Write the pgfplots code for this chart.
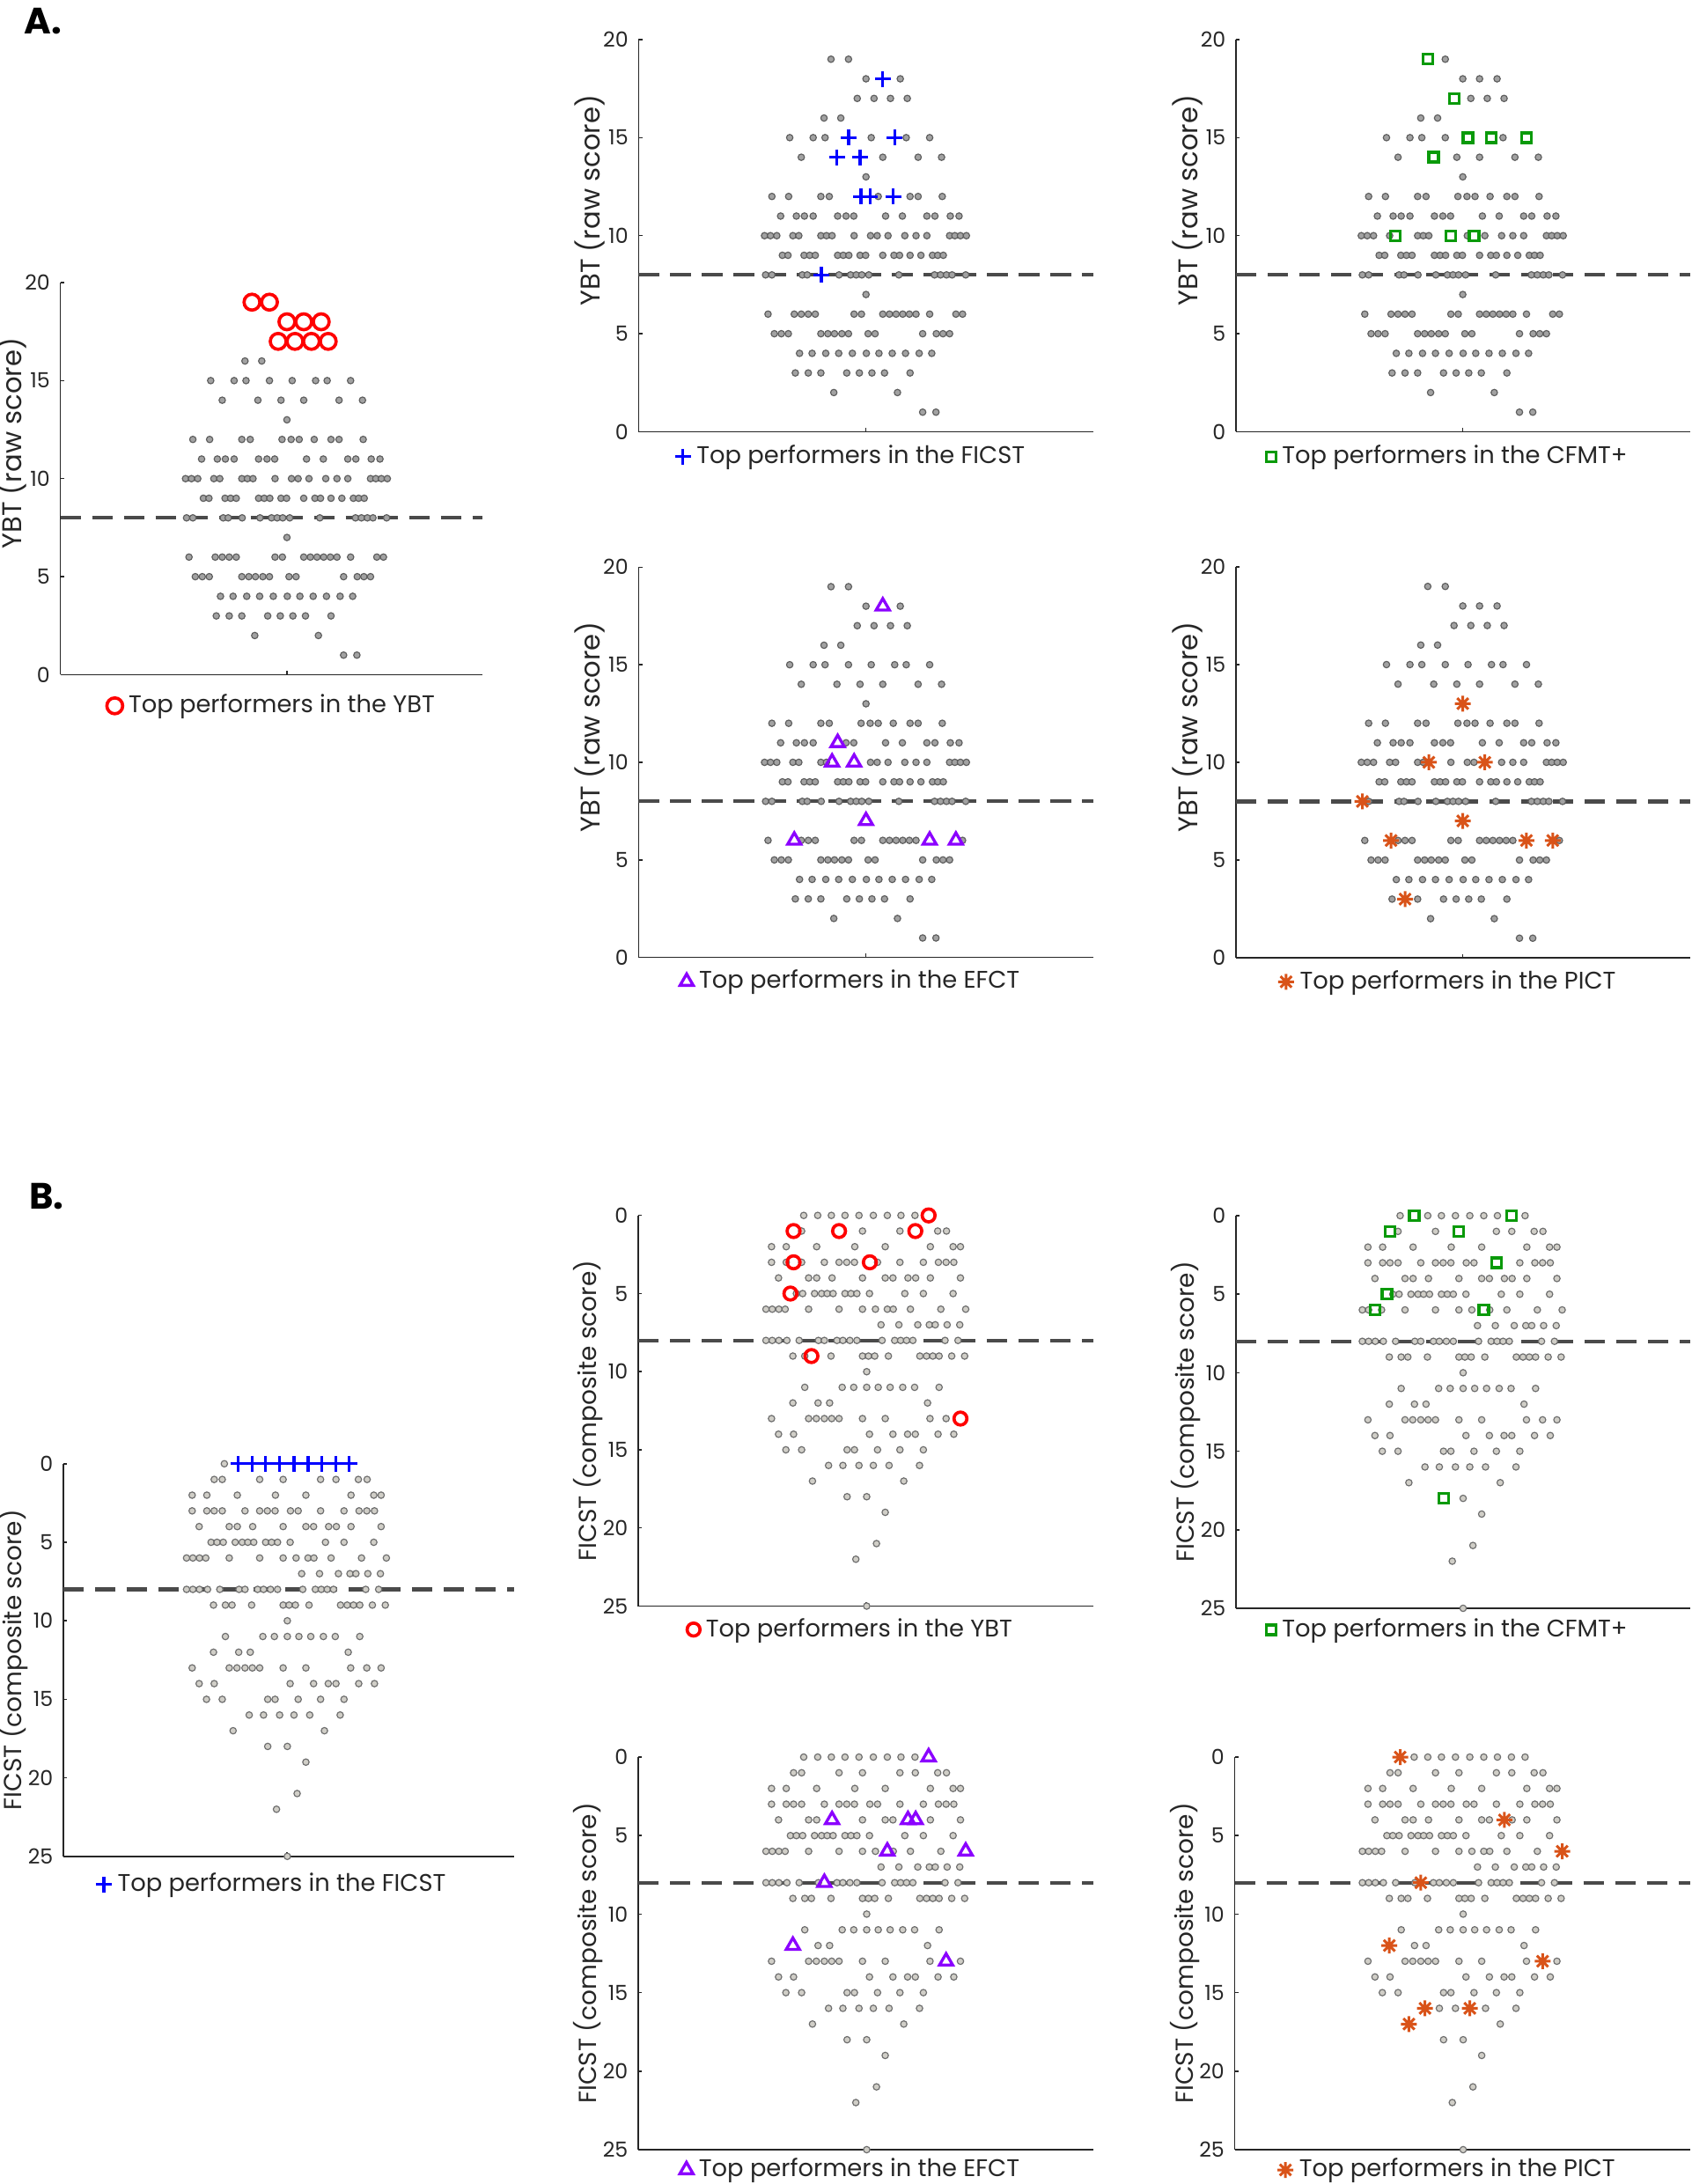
\documentclass[border=0pt]{standalone}
\usepackage{fontspec}
\setmainfont{Poppins}
\usepackage{pgfplots}
\usepackage{pgfplotstable}
\pgfplotsset{compat=1.18}

\definecolor{axcol}{HTML}{262626}
\definecolor{grayAfill}{HTML}{A2A2A2}
\definecolor{grayAedge}{HTML}{5E5E5E}
\definecolor{grayBfill}{HTML}{D0CEC7}
\definecolor{grayBedge}{HTML}{6E6E6E}
\definecolor{dashcol}{HTML}{4A4A4A}
\definecolor{mred}{HTML}{FF0000}
\definecolor{mblue}{HTML}{0000FF}
\definecolor{mgreen}{HTML}{0A9A0A}
\definecolor{mpurple}{HTML}{8B00FF}
\definecolor{morange}{HTML}{D95319}

\newcommand{\tfont}{\fontsize{7.1}{8}\selectfont}
\newcommand{\lfont}{\fontsize{8.2}{9.5}\selectfont}
\newcommand{\yAfont}{\fontsize{9.2}{10.5}\selectfont}
\newcommand{\yBfont}{\fontsize{8.4}{9.5}\selectfont}

\pgfdeclareplotmark{ast8}{%
  \pgfpathmoveto{\pgfqpoint{-\pgfplotmarksize}{0pt}}\pgfpathlineto{\pgfqpoint{\pgfplotmarksize}{0pt}}%
  \pgfpathmoveto{\pgfqpoint{0pt}{-\pgfplotmarksize}}\pgfpathlineto{\pgfqpoint{0pt}{\pgfplotmarksize}}%
  \pgfpathmoveto{\pgfqpoint{-0.7071\pgfplotmarksize}{-0.7071\pgfplotmarksize}}\pgfpathlineto{\pgfqpoint{0.7071\pgfplotmarksize}{0.7071\pgfplotmarksize}}%
  \pgfpathmoveto{\pgfqpoint{-0.7071\pgfplotmarksize}{0.7071\pgfplotmarksize}}\pgfpathlineto{\pgfqpoint{0.7071\pgfplotmarksize}{-0.7071\pgfplotmarksize}}%
  \pgfusepathqstroke}

% YBT raw scores (beeswarm offsets x, score y; flags: f=FICST, c=CFMT+, e=EFCT, p=PICT top)
\pgfplotstableread{
x y f c e p
-100 19 0 1 0 0
-50 19 0 0 0 0
0 18 0 0 0 0
48 18 1 0 1 0
98 18 0 0 0 0
-25 17 0 1 0 0
23 17 0 0 0 0
70 17 0 0 0 0
118 17 0 0 0 0
-120 16 0 0 0 0
-72 16 0 0 0 0
-218 15 0 0 0 0
-151 15 0 0 0 0
-117 15 0 0 0 0
-50 15 1 0 0 0
15 15 0 1 0 0
82 15 1 1 0 0
115 15 0 0 0 0
182 15 0 1 0 0
-185 14 0 0 0 0
-83 14 1 1 0 0
-17 14 1 0 0 0
48 14 0 0 0 0
149 14 0 0 0 0
216 14 0 0 0 0
0 13 0 0 0 1
-269 12 0 0 0 0
-221 12 0 0 0 0
-129 12 0 0 0 0
-105 12 0 0 0 0
-14 12 1 0 0 0
12 12 1 0 0 0
35 12 0 0 0 0
78 12 1 0 0 0
126 12 0 0 0 0
149 12 0 0 0 0
218 12 0 0 0 0
-244 11 0 0 0 0
-199 11 0 0 0 0
-176 11 0 0 0 0
-151 11 0 0 0 0
-81 11 0 0 1 0
-57 11 0 0 0 0
-35 11 0 0 0 0
56 11 0 0 0 0
104 11 0 0 0 0
174 11 0 0 0 0
197 11 0 0 0 0
241 11 0 0 0 0
266 11 0 0 0 0
-290 10 0 0 0 0
-273 10 0 0 0 0
-255 10 0 0 0 0
-209 10 0 0 0 0
-192 10 0 1 0 0
-129 10 0 0 0 0
-113 10 0 0 0 0
-97 10 0 0 1 1
-34 10 0 1 1 0
13 10 0 0 0 0
32 10 0 1 0 0
63 10 0 0 0 1
111 10 0 0 0 0
143 10 0 0 0 0
174 10 0 0 0 0
239 10 0 0 0 0
254 10 0 0 0 0
270 10 0 0 0 0
287 10 0 0 0 0
-239 9 0 0 0 0
-223 9 0 0 0 0
-177 9 0 0 0 0
-161 9 0 0 0 0
-145 9 0 0 0 0
-81 9 0 0 0 0
-65 9 0 0 0 0
-49 9 0 0 0 0
-17 9 0 0 0 0
-1 9 0 0 0 0
48 9 0 0 0 0
80 9 0 0 0 0
96 9 0 0 0 0
126 9 0 0 0 0
157 9 0 0 0 0
190 9 0 0 0 0
205 9 0 0 0 0
221 9 0 0 0 0
-287 8 0 0 0 1
-269 8 0 0 0 0
-182 8 0 0 0 0
-168 8 0 0 0 0
-128 8 1 0 0 0
-77 8 0 0 0 0
-44 8 0 0 0 0
-28 8 0 0 0 0
-12 8 0 0 0 0
8 8 0 0 0 0
94 8 0 0 0 0
196 8 0 0 0 0
213 8 0 0 0 0
230 8 0 0 0 0
246 8 0 0 0 0
285 8 0 0 0 0
0 7 0 0 1 1
-280 6 0 0 0 0
-205 6 0 0 1 1
-185 6 0 0 0 0
-165 6 0 0 0 0
-145 6 0 0 0 0
-34 6 0 0 0 0
-13 6 0 0 0 0
48 6 0 0 0 0
67 6 0 0 0 0
86 6 0 0 0 0
105 6 0 0 0 0
124 6 0 0 0 0
143 6 0 0 0 0
182 6 0 0 1 1
257 6 0 0 1 1
276 6 0 0 0 0
-262 5 0 0 0 0
-242 5 0 0 0 0
-222 5 0 0 0 0
-129 5 0 0 0 0
-109 5 0 0 0 0
-90 5 0 0 0 0
-69 5 0 0 0 0
-50 5 0 0 0 0
6 5 0 0 0 0
26 5 0 0 0 0
162 5 0 0 0 0
201 5 0 0 0 0
220 5 0 0 0 0
239 5 0 0 0 0
-190 4 0 0 0 0
-154 4 0 0 0 0
-115 4 0 0 0 0
-78 4 0 0 0 0
-39 4 0 0 0 0
1 4 0 0 0 0
37 4 0 0 0 0
75 4 0 0 0 0
113 4 0 0 0 0
152 4 0 0 0 0
188 4 0 0 0 0
-202 3 0 0 0 0
-165 3 0 0 0 1
-129 3 0 0 0 0
-55 3 0 0 0 0
-19 3 0 0 0 0
17 3 0 0 0 0
53 3 0 0 0 0
126 3 0 0 0 0
-92 2 0 0 0 0
90 2 0 0 0 0
162 1 0 0 0 0
200 1 0 0 0 0
}\tabA

% FICST composite scores (flags: t=FICST, r=YBT, c=CFMT+, e=EFCT, p=PICT top)
\pgfplotstableread{
x y t r c e p
-179 0 0 0 0 0 1
-139 0 1 0 1 0 0
-100 0 1 0 0 0 0
-61 0 1 0 0 0 0
-21 0 1 0 0 0 0
20 0 1 0 0 0 0
60 0 1 0 0 0 0
99 0 1 0 0 0 0
139 0 1 0 1 0 0
178 0 1 1 0 1 0
-208 1 0 1 1 0 0
-185 1 0 0 0 0 0
-78 1 0 1 0 0 0
-11 1 0 0 1 0 0
96 1 0 0 0 0 0
140 1 0 1 0 0 0
204 1 0 0 0 0 0
229 1 0 0 0 0 0
-271 2 0 0 0 0 0
-229 2 0 0 0 0 0
-142 2 0 0 0 0 0
-33 2 0 0 0 0 0
54 2 0 0 0 0 0
183 2 0 0 0 0 0
248 2 0 0 0 0 0
269 2 0 0 0 0 0
-271 3 0 0 0 0 0
-229 3 0 0 0 0 0
-208 3 0 1 0 0 0
-185 3 0 0 0 0 0
-120 3 0 0 0 0 0
-78 3 0 0 0 0 0
-56 3 0 0 0 0 0
-34 3 0 0 0 0 0
10 3 0 1 0 0 0
32 3 0 0 0 0 0
96 3 0 0 1 0 0
163 3 0 0 0 0 0
206 3 0 0 0 0 0
228 3 0 0 0 0 0
250 3 0 0 0 0 0
-251 4 0 0 0 0 0
-165 4 0 0 0 0 0
-142 4 0 0 0 0 0
-98 4 0 0 0 1 0
-11 4 0 0 0 0 0
54 4 0 0 0 0 0
76 4 0 0 0 0 0
119 4 0 0 0 1 1
141 4 0 0 0 1 0
183 4 0 0 0 0 0
269 4 0 0 0 0 0
-217 5 0 1 1 0 0
-200 5 0 0 0 0 0
-182 5 0 0 0 0 0
-148 5 0 0 0 0 0
-128 5 0 0 0 0 0
-112 5 0 0 0 0 0
-95 5 0 0 0 0 0
-61 5 0 0 0 0 0
-44 5 0 0 0 0 0
-27 5 0 0 0 0 0
9 5 0 0 0 0 0
110 5 0 0 0 0 0
163 5 0 0 0 0 0
248 5 0 0 0 0 0
-287 6 0 0 0 0 0
-269 6 0 0 0 0 0
-250 6 0 0 1 0 0
-232 6 0 0 0 0 0
-165 6 0 0 0 0 0
-78 6 0 0 0 0 0
-11 6 0 0 0 0 0
26 6 0 0 0 0 0
60 6 0 0 1 1 0
77 6 0 0 0 0 0
126 6 0 0 0 0 0
213 6 0 0 0 0 0
284 6 0 0 0 1 1
42 7 0 0 0 0 0
93 7 0 0 0 0 0
147 7 0 0 0 0 0
180 7 0 0 0 0 0
197 7 0 0 0 0 0
231 7 0 0 0 0 0
267 7 0 0 0 0 0
-287 8 0 0 0 0 0
-269 8 0 0 0 0 0
-250 8 0 0 0 0 0
-227 8 0 0 0 0 0
-192 8 0 0 0 0 0
-137 8 0 0 0 0 0
-120 8 0 0 0 1 1
-84 8 0 0 0 0 0
-67 8 0 0 0 0 0
-47 8 0 0 0 0 0
-27 8 0 0 0 0 0
45 8 0 0 0 0 0
81 8 0 0 0 0 0
98 8 0 0 0 0 0
115 8 0 0 0 0 0
133 8 0 0 0 0 0
225 8 0 0 0 0 0
262 8 0 0 0 0 0
-210 9 0 0 0 0 0
-176 9 0 0 0 0 0
-157 9 0 1 0 0 0
-101 9 0 0 0 0 0
-11 9 0 0 0 0 0
6 9 0 0 0 0 0
24 9 0 0 0 0 0
63 9 0 0 0 0 0
153 9 0 0 0 0 0
172 9 0 0 0 0 0
190 9 0 0 0 0 0
208 9 0 0 0 0 0
244 9 0 0 0 0 0
281 9 0 0 0 0 0
1 10 0 0 0 0 0
-176 11 0 0 0 0 0
-69 11 0 0 0 0 0
-36 11 0 0 0 0 0
1 11 0 0 0 0 0
34 11 0 0 0 0 0
68 11 0 0 0 0 0
104 11 0 0 0 0 0
138 11 0 0 0 0 0
208 11 0 0 0 0 0
-210 12 0 0 0 1 1
-138 12 0 0 0 0 0
-105 12 0 0 0 0 0
175 12 0 0 0 0 0
-271 13 0 0 0 0 0
-165 13 0 0 0 0 0
-143 13 0 0 0 0 0
-120 13 0 0 0 0 0
-99 13 0 0 0 0 0
-78 13 0 0 0 0 0
-11 13 0 0 0 0 0
54 13 0 0 0 0 0
182 13 0 0 0 0 0
228 13 0 0 0 1 1
269 13 0 1 0 0 0
-251 14 0 0 0 0 0
-208 14 0 0 0 0 0
9 14 0 0 0 0 0
76 14 0 0 0 0 0
118 14 0 0 0 0 0
140 14 0 0 0 0 0
205 14 0 0 0 0 0
250 14 0 0 0 0 0
-230 15 0 0 0 0 0
-185 15 0 0 0 0 0
-55 15 0 0 0 0 0
-34 15 0 0 0 0 0
32 15 0 0 0 0 0
96 15 0 0 0 0 0
163 15 0 0 0 0 0
-108 16 0 0 0 0 1
-67 16 0 0 0 0 0
-21 16 0 0 0 0 0
20 16 0 0 0 0 1
65 16 0 0 0 0 0
152 16 0 0 0 0 0
-154 17 0 0 0 0 1
107 17 0 0 0 0 0
-55 18 0 0 1 0 0
1 18 0 0 0 0 0
54 19 0 0 0 0 0
29 21 0 0 0 0 0
-30 22 0 0 0 0 0
1 25 0 0 0 0 0
}\tabB

\pgfplotsset{
  bee/.style={
    scale only axis, anchor=south west, enlargelimits=false,
    axis x line*=bottom, axis y line*=left,
    x axis line style={-}, y axis line style={-},
    axis line style={draw=axcol, line width=0.45pt},
    xtick={0}, xticklabels={},
    tick align=inside, major tick length=1.3pt,
    tick style={draw=axcol, line width=0.45pt},
    tick label style={font=\tfont, text=axcol},
    /pgf/number format/assume math mode=true,
    label style={font=\lfont, text=axcol},
    legend style={draw=none, fill=none, font=\lfont, text=axcol, anchor=center, xshift=-4.5pt},
    legend image code/.code={\draw[##1,/tikz/only marks] plot coordinates {(0pt,0pt)};},
  },
  beeA/.style={bee, ymin=0, ymax=20, ytick={0,5,10,15,20},
    ylabel={YBT (raw score)},
    every axis y label/.style={at={(axis description cs:0,0.5)}, xshift=-16.5pt, yshift=12pt, rotate=90, anchor=center, font=\yAfont, text=axcol}},
  beeB/.style={bee, ymin=0, ymax=25, y dir=reverse, ytick={0,5,10,15,20,25},
    ylabel={FICST (composite score)},
    every axis y label/.style={at={(axis description cs:0,0.5)}, xshift=-17pt, rotate=90, anchor=center, font=\yBfont, text=axcol}},
  grayA/.style={only marks, mark=*, mark size=1.1pt, mark options={fill=grayAfill, draw=grayAedge, line width=0.35pt}, forget plot},
  grayB/.style={only marks, mark=*, mark size=1.1pt, mark options={fill=grayBfill, draw=grayBedge, line width=0.35pt}, forget plot},
  dashl/.style={forget plot, no marks, draw=dashcol, line width=1.3pt, dash pattern=on 7pt off 3.8pt},
  hcirc/.style={only marks, mark=o, mark size=#1, draw=mred, line width=1.1pt},
  hplus/.style={only marks, mark=+, mark size=2.7pt, draw=mblue, line width=1pt},
  hsq/.style={only marks, mark=square, mark size=1.65pt, draw=mgreen, line width=1pt},
  htri/.style={only marks, mark=triangle, mark size=2.6pt, draw=mpurple, line width=1pt},
  hast/.style={only marks, mark=ast8, mark size=2.7pt, draw=morange, line width=0.9pt},
}

\begin{document}
\begin{tikzpicture}
\useasboundingbox (0,0) rectangle (576.3pt,744.3pt);

\node[font=\bfseries\fontsize{12.5}{14}\selectfont, text=black] at (14.7pt,737.1pt) {A.};
\node[font=\bfseries\fontsize{12.5}{14}\selectfont, text=black] at (15.9pt,336.6pt) {B.};

% ---------- A-1: YBT top performers
\begin{axis}[beeA, at={(20.55pt,514.35pt)}, width=143.85pt, height=133.65pt, xmin=-648, xmax=559,
  legend style={at={(axis description cs:0.537,0)}, yshift=-10.6pt}]
\addplot[grayA] table[x=x, y=y, restrict y to domain=0:16.5] {\tabA};
\addplot[dashl] coordinates {(-648,8) (559,8)};
\addplot[hcirc=2.7pt] table[x=x, y=y, restrict y to domain=16.5:20] {\tabA};
\addlegendentry{Top performers in the YBT}
\end{axis}

% ---------- A-2: FICST
\begin{axis}[beeA, at={(217.62pt,597.15pt)}, width=154.98pt, height=133.65pt, xmin=-650, xmax=650,
  legend style={at={(axis description cs:0.5,0)}, yshift=-8.5pt}]
\addplot[grayA] table[x=x, y=y, restrict expr to domain={\thisrow{f}}{0:0.5}] {\tabA};
\addplot[dashl] coordinates {(-650,8) (650,8)};
\addplot[hplus] table[x=x, y=y, restrict expr to domain={\thisrow{f}}{0.5:1.5}] {\tabA};
\addlegendentry{Top performers in the FICST}
\end{axis}

% ---------- A-3: CFMT+
\begin{axis}[beeA, at={(421.2pt,597.15pt)}, width=154.8pt, height=133.65pt, xmin=-648, xmax=650,
  legend style={at={(axis description cs:0.5,0)}, yshift=-8.5pt}]
\addplot[grayA] table[x=x, y=y, restrict expr to domain={\thisrow{c}}{0:0.5}] {\tabA};
\addplot[dashl] coordinates {(-648,8) (650,8)};
\addplot[hsq] table[x=x, y=y, restrict expr to domain={\thisrow{c}}{0.5:1.5}] {\tabA};
\addlegendentry{Top performers in the CFMT+}
\end{axis}

% ---------- A-4: EFCT
\begin{axis}[beeA, at={(217.62pt,417.99pt)}, width=154.98pt, height=133.02pt, xmin=-650, xmax=650,
  legend style={at={(axis description cs:0.5,0)}, yshift=-8.2pt}]
\addplot[grayA] table[x=x, y=y, restrict expr to domain={\thisrow{e}}{0:0.5}] {\tabA};
\addplot[dashl] coordinates {(-650,8) (650,8)};
\addplot[htri] table[x=x, y=y, restrict expr to domain={\thisrow{e}}{0.5:1.5}] {\tabA};
\addlegendentry{Top performers in the EFCT}
\end{axis}

% ---------- A-5: PICT
\begin{axis}[beeA, at={(421.2pt,417.9pt)}, width=154.8pt, height=133.2pt, xmin=-648, xmax=650,
  legend style={at={(axis description cs:0.5,0)}, yshift=-8.2pt}]
\addplot[grayA] table[x=x, y=y, restrict expr to domain={\thisrow{p}}{0:0.5}] {\tabA};
\addplot[dashl] coordinates {(-648,8) (650,8)};
\addplot[hast] table[x=x, y=y, restrict expr to domain={\thisrow{p}}{0.5:1.5}] {\tabA};
\addlegendentry{Top performers in the PICT}
\end{axis}

% ---------- B-1: FICST top
\begin{axis}[beeB, at={(21.6pt,111.66pt)}, width=153.6pt, height=133.8pt, xmin=-639, xmax=649,
  legend style={at={(axis description cs:0.496,0)}, yshift=-9.6pt}]
\addplot[grayB] table[x=x, y=y, restrict expr to domain={\thisrow{t}}{0:0.5}] {\tabB};
\addplot[dashl] coordinates {(-639,8) (649,8)};
\addplot[hplus] table[x=x, y=y, restrict expr to domain={\thisrow{t}}{0.5:1.5}] {\tabB};
\addlegendentry{Top performers in the FICST}
\end{axis}

% ---------- B-2: YBT
\begin{axis}[beeB, at={(217.5pt,196.95pt)}, width=155.1pt, height=133.14pt, xmin=-652, xmax=649,
  legend style={at={(axis description cs:0.5,0)}, yshift=-8pt}]
\addplot[grayB] table[x=x, y=y, restrict expr to domain={\thisrow{r}}{0:0.5}] {\tabB};
\addplot[dashl] coordinates {(-652,8) (649,8)};
\addplot[hcirc=2.2pt] table[x=x, y=y, restrict expr to domain={\thisrow{r}}{0.5:1.5}] {\tabB};
\addlegendentry{Top performers in the YBT}
\end{axis}

% ---------- B-3: CFMT+
\begin{axis}[beeB, at={(421.2pt,196.2pt)}, width=154.8pt, height=133.8pt, xmin=-648, xmax=650,
  legend style={at={(axis description cs:0.5,0)}, yshift=-7.4pt}]
\addplot[grayB] table[x=x, y=y, restrict expr to domain={\thisrow{c}}{0:0.5}] {\tabB};
\addplot[dashl] coordinates {(-648,8) (650,8)};
\addplot[hsq] table[x=x, y=y, restrict expr to domain={\thisrow{c}}{0.5:1.5}] {\tabB};
\addlegendentry{Top performers in the CFMT+}
\end{axis}

% ---------- B-4: EFCT
\begin{axis}[beeB, at={(217.5pt,11.7pt)}, width=155.1pt, height=133.8pt, xmin=-652, xmax=649,
  legend style={at={(axis description cs:0.5,0)}, yshift=-6.9pt}]
\addplot[grayB] table[x=x, y=y, restrict expr to domain={\thisrow{e}}{0:0.5}] {\tabB};
\addplot[dashl] coordinates {(-652,8) (649,8)};
\addplot[htri] table[x=x, y=y, restrict expr to domain={\thisrow{e}}{0.5:1.5}] {\tabB};
\addlegendentry{Top performers in the EFCT}
\end{axis}

% ---------- B-5: PICT
\begin{axis}[beeB, at={(420.75pt,11.7pt)}, width=155.25pt, height=133.8pt, xmin=-652, xmax=650,
  legend style={at={(axis description cs:0.5,0)}, yshift=-6.9pt}]
\addplot[grayB] table[x=x, y=y, restrict expr to domain={\thisrow{p}}{0:0.5}] {\tabB};
\addplot[dashl] coordinates {(-652,8) (650,8)};
\addplot[hast] table[x=x, y=y, restrict expr to domain={\thisrow{p}}{0.5:1.5}] {\tabB};
\addlegendentry{Top performers in the PICT}
\end{axis}

\end{tikzpicture}
\end{document}
